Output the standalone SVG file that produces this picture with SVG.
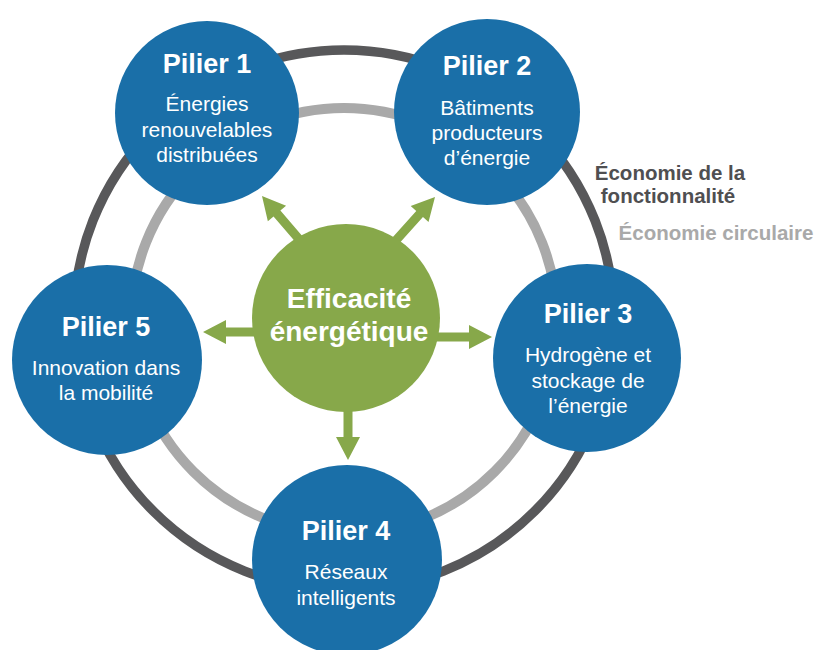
<svg xmlns="http://www.w3.org/2000/svg" xmlns:xlink="http://www.w3.org/1999/xlink" width="821" height="650" viewBox="0 0 821 650">
<style>
.pillar{fill:#1a6fa8}
.title{font-family:"Liberation Sans",Arial,sans-serif;font-weight:bold;font-size:27px;fill:#ffffff;text-anchor:middle}
.body{font-family:"Liberation Sans",Arial,sans-serif;font-size:21px;fill:#ffffff;text-anchor:middle}
.center{font-family:"Liberation Sans",Arial,sans-serif;font-weight:bold;font-size:28px;fill:#ffffff;text-anchor:middle}
.lbl{font-family:"Liberation Sans",Arial,sans-serif;font-weight:bold;font-size:20.5px;text-anchor:middle}
.arrow{fill:#87a84a}
</style>
<defs>
<polygon id="arr" points="-100,-4.5 -23,-4.5 -23,-12 0,0 -23,12 -23,4.5 -100,4.5"/>
</defs>
<rect width="821" height="650" fill="#ffffff"/>
<g id="rings" fill="none">
<circle cx="344" cy="320" r="270" stroke="#58585a" stroke-width="9.5"/>
<circle cx="344" cy="321" r="213" stroke="#a9a9a9" stroke-width="10"/>
</g>
<g id="connectors" class="arrow">
<use xlink:href="#arr" transform="translate(262,196) rotate(-130.6)"/>
<use xlink:href="#arr" transform="translate(435,197) rotate(-48)"/>
<use xlink:href="#arr" transform="translate(203,332) rotate(180)"/>
<use xlink:href="#arr" transform="translate(492,337)"/>
<use xlink:href="#arr" transform="translate(348,460) rotate(90)"/>
</g>
<g id="center">
<circle cx="346" cy="318" r="94" fill="#87a84a"/>
<text class="center" x="349" y="308">Efficacité</text>
<text class="center" x="349" y="341">énergétique</text>
</g>
<g id="pilier1">
<circle class="pillar" cx="207" cy="113" r="92"/>
<text class="title" x="207" y="73">Pilier 1</text>
<text class="body" x="207" y="111">Énergies</text>
<text class="body" x="207" y="137">renouvelables</text>
<text class="body" x="207" y="162">distribuées</text>
</g>
<g id="pilier2">
<circle class="pillar" cx="487" cy="112" r="93"/>
<text class="title" x="487" y="75">Pilier 2</text>
<text class="body" x="487" y="115">Bâtiments</text>
<text class="body" x="487" y="140">producteurs</text>
<text class="body" x="487" y="165">d’énergie</text>
</g>
<g id="pilier3">
<circle class="pillar" cx="587" cy="358" r="94"/>
<text class="title" x="588" y="323">Pilier 3</text>
<text class="body" x="588" y="362">Hydrogène et</text>
<text class="body" x="588" y="388">stockage de</text>
<text class="body" x="588" y="413">l’énergie</text>
</g>
<g id="pilier4">
<circle class="pillar" cx="347" cy="560" r="95"/>
<text class="title" x="346" y="540">Pilier 4</text>
<text class="body" x="346" y="579">Réseaux</text>
<text class="body" x="346" y="605">intelligents</text>
</g>
<g id="pilier5">
<circle class="pillar" cx="107" cy="360" r="95"/>
<text class="title" x="106" y="336">Pilier 5</text>
<text class="body" x="106" y="375">Innovation dans</text>
<text class="body" x="106" y="400">la mobilité</text>
</g>
<g id="labels">
<text class="lbl" x="670" y="180" fill="#4f4f51">Économie de la</text>
<text class="lbl" x="668" y="203" fill="#4f4f51">fonctionnalité</text>
<text class="lbl" x="716" y="240" fill="#a9a9a9" font-size="21">Économie circulaire</text>
</g>
</svg>
